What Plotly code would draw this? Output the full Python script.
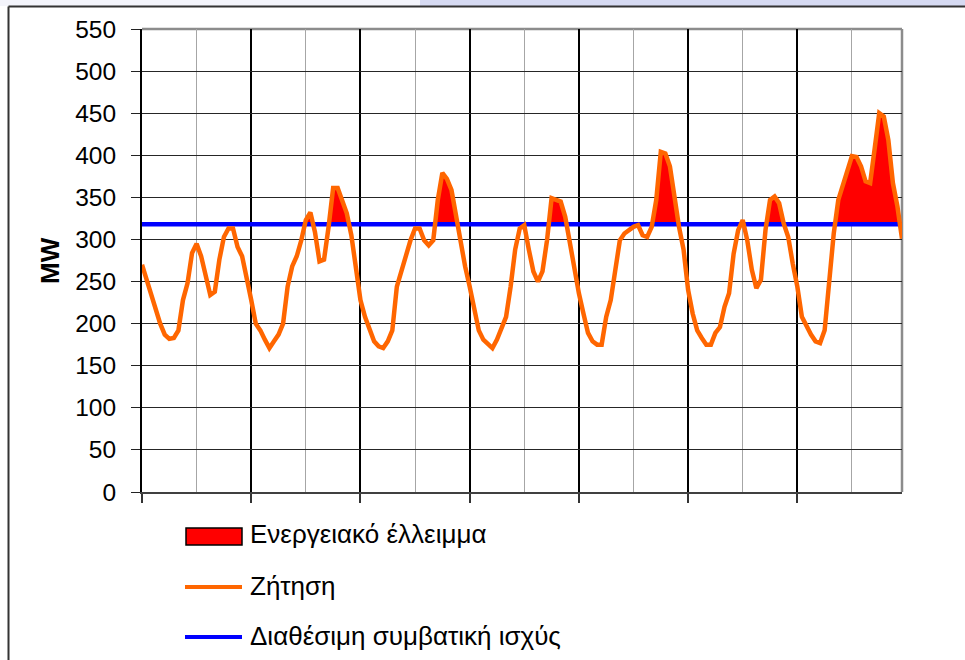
import plotly.graph_objects as go

# Hourly demand (MW) over one week, one list per day
day1 = [270, 252, 234, 220, 200, 187, 182, 183, 192, 228, 248, 284,
        295, 280, 256, 234, 238, 276, 303, 313, 313, 291, 280, 256]
day2 = [228, 200, 192, 181, 171, 179, 187, 200, 244, 268, 280, 299,
        323, 332, 309, 274, 276, 315, 361, 361, 347, 331, 305, 268]
day3 = [228, 208, 192, 179, 173, 171, 179, 192, 244, 264, 282, 299,
        313, 313, 299, 293, 299, 347, 379, 372, 359, 327, 299, 268]
day4 = [244, 216, 192, 181, 175, 171, 181, 196, 208, 244, 288, 313,
        317, 288, 262, 250, 262, 299, 349, 347, 345, 327, 295, 260]
day5 = [236, 212, 189, 179, 175, 175, 208, 228, 268, 299, 307, 311,
        315, 317, 305, 303, 315, 347, 404, 402, 387, 351, 315, 288]
day6 = [240, 212, 192, 183, 175, 175, 189, 196, 220, 236, 283, 311,
        323, 299, 264, 242, 252, 311, 347, 351, 343, 319, 303, 271]
day7 = [244, 208, 196, 187, 179, 177, 192, 248, 307, 347, 363, 383,
        399, 398, 387, 369, 367, 408, 450, 446, 418, 367, 339, 301]

capacity = 318  # available conventional capacity, MW

y_ticks = list(range(0, 551, 50))
labels = ["Ενεργειακό έλλειμμα", "Ζήτηση", "Διαθέσιμη συμβατική ισχύς"]

demand = day1 + day2 + day3 + day4 + day5 + day6 + day7
hours = list(range(len(demand)))
last = hours[-1]

# Outline of the deficit area: demand clipped at capacity, with the
# crossing points inserted so the red area meets the lines exactly
fx, fy = [], []
for i, d in enumerate(demand):
    if i > 0:
        a, b = demand[i - 1] - capacity, d - capacity
        if a * b < 0:
            fx.append(i - 1 + a / (a - b))
            fy.append(capacity)
    fx.append(i)
    fy.append(max(d, capacity))

FONT = "Liberation Sans, Arial, sans-serif"
ORANGE = "#FF6600"
BLUE = "#0000FF"
RED = "#FF0000"

fig = go.Figure()
fig.add_trace(go.Scatter(x=[0, last], y=[capacity, capacity], mode="lines",
                         line=dict(width=0), showlegend=False, hoverinfo="skip"))
fig.add_trace(go.Scatter(x=fx, y=fy, mode="lines", line=dict(width=0),
                         fill="tonexty", fillcolor=RED, name=labels[0],
                         showlegend=False))
fig.add_trace(go.Scatter(x=[0, last], y=[capacity, capacity], mode="lines",
                         line=dict(color=BLUE, width=4.5), name=labels[2],
                         showlegend=False))
fig.add_trace(go.Scatter(x=hours, y=demand, mode="lines",
                         line=dict(color=ORANGE, width=4.5), name=labels[1],
                         showlegend=False))

W, H = 965, 660
L, R, T, B = 142, 902, 29, 492


def px(x):
    return (x - L) / (R - L)


def py(y):
    return (B - y) / (B - T)


day_ticks = list(range(0, last, 24))
half_days = list(range(12, last, 24))

fig.update_layout(
    width=W, height=H,
    margin=dict(l=L, r=W - R, t=T, b=H - B),
    paper_bgcolor="white", plot_bgcolor="white",
    font=dict(family=FONT, color="black", size=24),
    xaxis=dict(range=[0, last], tickvals=day_ticks, showticklabels=False,
               ticks="outside", ticklen=9, tickwidth=1.5, tickcolor="#333333",
               showgrid=True, gridcolor="black", gridwidth=2,
               minor=dict(tickvals=half_days, showgrid=True,
                          gridcolor="#a6a6a6", gridwidth=1.3, ticks=""),
               showline=True, linecolor="#404040", linewidth=2,
               zeroline=False, fixedrange=True),
    yaxis=dict(range=[0, 550], tickvals=y_ticks, ticks="outside", ticklen=9,
               tickwidth=1.3, tickcolor="#222222", ticklabelstandoff=10,
               tickfont=dict(size=24.5, color="black"),
               showgrid=True, gridcolor="#262626", gridwidth=1.2,
               showline=True, linecolor="black", linewidth=2,
               zeroline=False, fixedrange=True),
)

shapes = [
    # top strip and outer frame
    dict(type="rect", xref="paper", yref="paper", x0=px(0), x1=px(W),
         y0=py(6), y1=py(0), fillcolor="#f3f4fb", line=dict(width=0), layer="below"),
    dict(type="rect", xref="paper", yref="paper", x0=px(420), x1=px(W),
         y0=py(6), y1=py(0), fillcolor="#d6daf2", line=dict(width=0), layer="below"),
    dict(type="line", xref="paper", yref="paper", x0=px(8.5), x1=px(W),
         y0=py(6.5), y1=py(6.5), line=dict(color="#333333", width=2)),
    dict(type="line", xref="paper", yref="paper", x0=px(8.5), x1=px(8.5),
         y0=py(6.5), y1=py(H), line=dict(color="#333333", width=2)),
    # plot border on top and right
    dict(type="line", xref="paper", yref="paper", x0=0, x1=1, y0=1, y1=1,
         line=dict(color="#8c8c8c", width=2.5), layer="between"),
    dict(type="line", xref="paper", yref="paper", x0=1, x1=1, y0=0, y1=1,
         line=dict(color="#8c8c8c", width=2.5), layer="between"),
    # legend symbols
    dict(type="rect", xref="paper", yref="paper", x0=px(186), x1=px(242),
         y0=py(545), y1=py(528), fillcolor=RED, line=dict(color="black", width=1.5)),
    dict(type="line", xref="paper", yref="paper", x0=px(185), x1=px(242),
         y0=py(587), y1=py(587), line=dict(color=ORANGE, width=4)),
    dict(type="line", xref="paper", yref="paper", x0=px(185), x1=px(242),
         y0=py(637), y1=py(637), line=dict(color=BLUE, width=4)),
]
fig.update_layout(shapes=shapes)

annotations = [
    dict(text="<b>MW</b>", xref="paper", yref="paper", x=px(50), y=py(261),
         textangle=-90, showarrow=False, font=dict(size=26, color="black"),
         xanchor="center", yanchor="middle"),
]
for label, ly in zip(labels, [534, 586, 636]):
    annotations.append(dict(text=label, xref="paper", yref="paper",
                            x=px(248), y=py(ly), xanchor="left", yanchor="middle",
                            showarrow=False, font=dict(size=26, color="black")))
fig.update_layout(annotations=annotations)

fig.write_html("out.html")
